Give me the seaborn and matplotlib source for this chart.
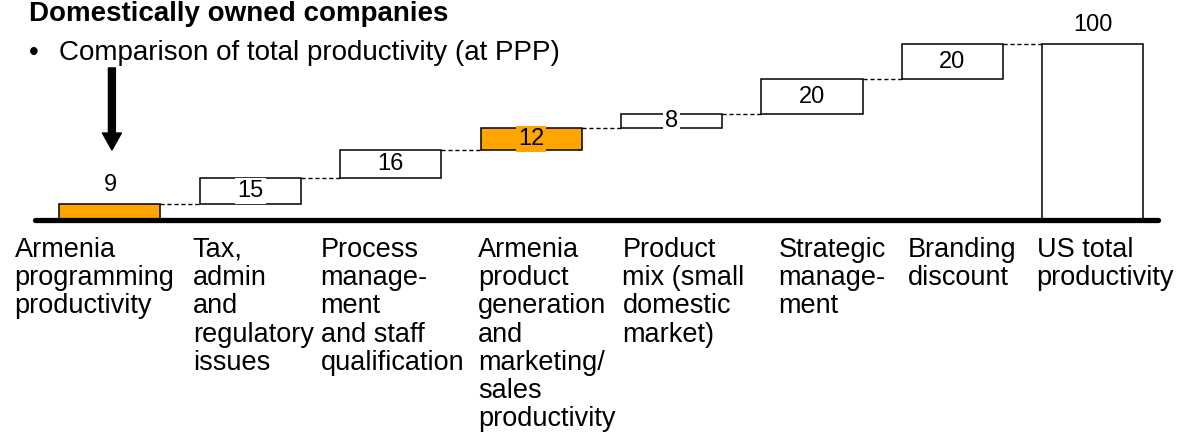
import matplotlib
matplotlib.use('Agg')
import matplotlib.pyplot as plt
import matplotlib.transforms as mtransforms
import seaborn as sns

# data
categories = ['Armenia programming productivity', 'Tax, admin and regulatory issues',
              'Process management and staff qualification',
              'Armenia product generation and marketing/sales productivity',
              'Product mix (small domestic market)', 'Strategic management',
              'Branding discount', 'US total productivity']
tick_labels = ['Armenia\nprogramming\nproductivity',
               'Tax,\nadmin\nand\nregulatory\nissues',
               'Process\nmanage-\nment\nand staff\nqualification',
               'Armenia\nproduct\ngeneration\nand\nmarketing/\nsales\nproductivity',
               'Product\nmix (small\ndomestic\nmarket)',
               'Strategic\nmanage-\nment',
               'Branding\ndiscount',
               'US total\nproductivity']
values = [9, 15, 16, 12, 8, 20, 20, 100]
bar_types = ['start', 'step', 'step', 'step', 'step', 'step', 'step', 'total']
armenia = [True, False, False, True, False, False, False, False]

# layout
label_x = [-0.68, 0.59, 1.50, 2.62, 3.65, 4.76, 5.68, 6.60]
orange = '#FFA500'

sns.set_style('white')
plt.rcParams['font.family'] = ['Liberation Sans', 'DejaVu Sans']
plt.rcParams['text.color'] = 'black'

# floating bars start where the previous one ended
bottoms = []
running = 0
for v, t in zip(values, bar_types):
    if t == 'step':
        bottoms.append(running)
        running += v
    else:
        bottoms.append(0)
        running = v
colors = [orange if a else 'white' for a in armenia]

fig = plt.figure(figsize=(11.95, 4.32), dpi=100)
ax = fig.add_axes([0, 0.4907, 1, 0.5093])

sns.barplot(x=categories, y=values, bottom=bottoms, color='white', saturation=1,
            edgecolor='black', linewidth=1.1, width=0.72, ax=ax, zorder=3)
for patch, c in zip(ax.patches, colors):
    patch.set_facecolor(c)

ax.set_xlim(-0.783, 7.728)
ax.set_ylim(0, 125)
ax.axis('off')

# dashed connectors between bars
patches = ax.patches
for i in range(len(patches) - 1):
    y = bottoms[i] + values[i]
    x0 = patches[i].get_x() + patches[i].get_width()
    x1 = patches[i + 1].get_x()
    ax.plot([x0, x1], [y, y], color='black', lw=1, linestyle=(0, (3, 2)), zorder=2)

# baseline
ax.axhline(0, xmin=35 / 1195, xmax=1158 / 1195, color='black', lw=3.8,
           clip_on=False, solid_capstyle='round', zorder=5)

container = ax.containers[0]
inside = [str(v) if t == 'step' else '' for v, t in zip(values, bar_types)]
outside = [str(v) if t != 'step' else '' for v, t in zip(values, bar_types)]
texts = ax.bar_label(container, labels=inside, label_type='center', fontsize=17, color='black')
for t, c in zip(texts, colors):
    t.set_bbox(dict(facecolor=c, edgecolor='none', pad=1.5))
    t.set_zorder(6)
ax.bar_label(container, labels=outside, padding=6, fontsize=17, color='black')

# category labels, left aligned under the bars
trans = mtransforms.blended_transform_factory(ax.transData, fig.transFigure)
for x, lab in zip(label_x, tick_labels):
    ax.text(x, 1 - 237 / 432, lab, transform=trans, ha='left', va='top',
            fontsize=19.5, linespacing=1.11, clip_on=False)

# arrow pointing at Armenia
ax.annotate('', xy=(0.014, 39.8), xytext=(0.014, 86.4),
            arrowprops=dict(facecolor='black', edgecolor='black', width=5,
                            headwidth=13.7, headlength=12.2, shrink=0))

fig.text(29 / 1195, 1 - 21 / 432, 'Domestically owned companies', fontsize=20,
         fontweight='bold', va='baseline')
fig.text(29 / 1195, 1 - 60 / 432, '\u2022', fontsize=20, va='baseline')
fig.text(59 / 1195, 1 - 60 / 432, 'Comparison of total productivity (at PPP)',
         fontsize=20, va='baseline')

fig.savefig('out.png', dpi=100)
